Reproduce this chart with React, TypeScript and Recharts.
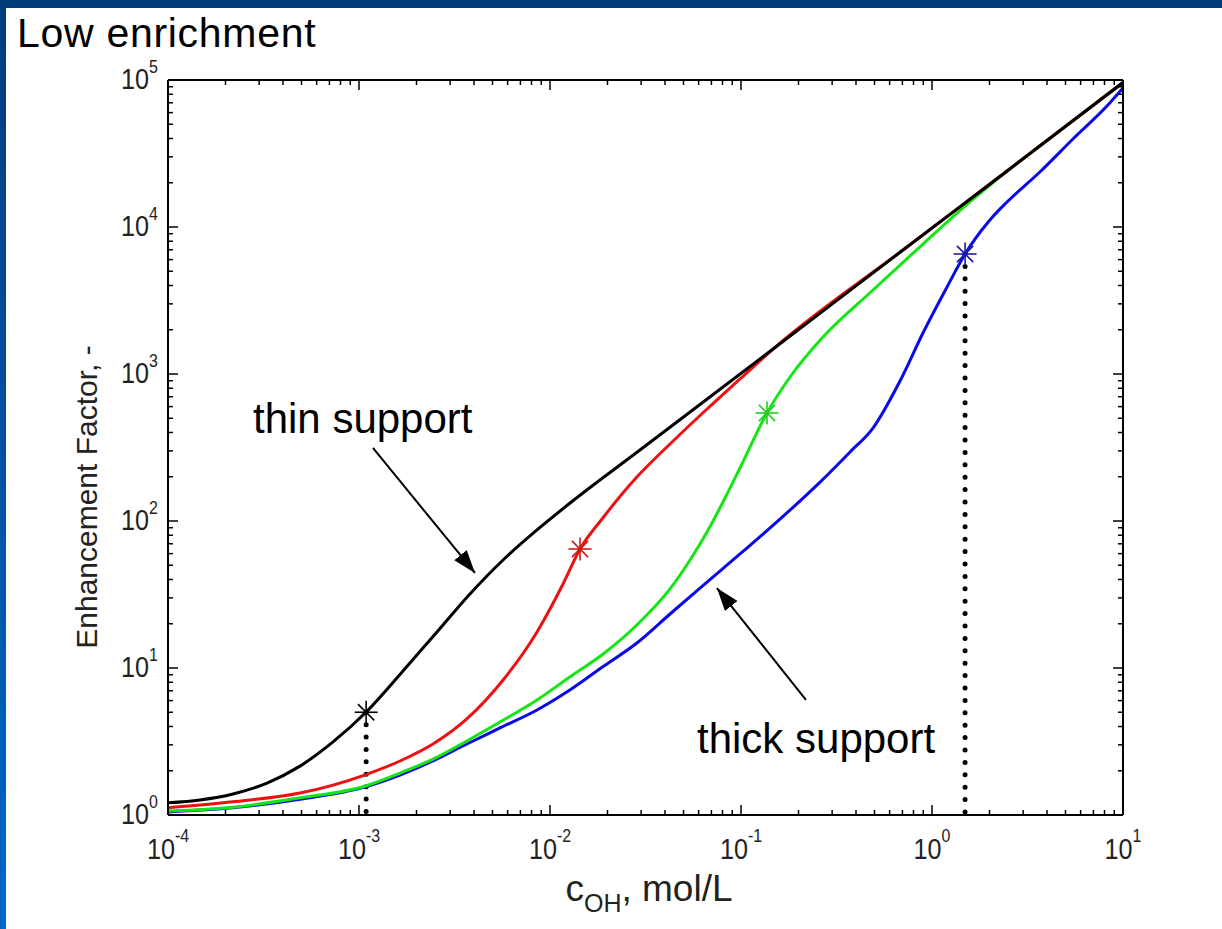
import React from 'react';
import { ComposedChart, Line, Scatter, XAxis, YAxis, ReferenceLine } from 'recharts';

const FONT = "'Liberation Sans', Arial, Helvetica, sans-serif";

// ---- axis ticks ----
const xMajorTicks = [1e-4, 1e-3, 1e-2, 1e-1, 1, 10];
const xMinorTicks = [
  2e-4, 3e-4, 4e-4, 5e-4, 6e-4, 7e-4, 8e-4, 9e-4,
  2e-3, 3e-3, 4e-3, 5e-3, 6e-3, 7e-3, 8e-3, 9e-3,
  0.02, 0.03, 0.04, 0.05, 0.06, 0.07, 0.08, 0.09,
  0.2, 0.3, 0.4, 0.5, 0.6, 0.7, 0.8, 0.9,
  2, 3, 4, 5, 6, 7, 8, 9,
];
const yMajorTicks = [1, 10, 100, 1000, 10000, 100000];
const yMinorTicks = [
  2, 3, 4, 5, 6, 7, 8, 9,
  20, 30, 40, 50, 60, 70, 80, 90,
  200, 300, 400, 500, 600, 700, 800, 900,
  2000, 3000, 4000, 5000, 6000, 7000, 8000, 9000,
  20000, 30000, 40000, 50000, 60000, 70000, 80000, 90000,
];
const xTicks = [...xMajorTicks, ...xMinorTicks];
const yTicks = [...yMajorTicks, ...yMinorTicks];

// ---- series (c_OH in mol/L, enhancement factor) ----
const blackX = [1e-4, 1.47e-4, 2.19e-4, 3.3e-4, 4.91e-4, 7.31e-4, 1.09e-3, 1.7e-3, 2.56e-3, 3.81e-3, 5.68e-3, 8.55e-3, 0.01274, 0.02958, 0.1472, 0.7396, 2.472, 10];
const blackY = [1.21, 1.265, 1.39, 1.65, 2.15, 3.14, 5.02, 9.55, 17.6, 31.9, 54.3, 86.9, 132.5, 304, 1479, 7310, 24040, 96150];

const redX = [1e-4, 2.19e-4, 4.91e-4, 1.07e-3, 1.64e-3, 2.44e-3, 3.67e-3, 5.68e-3, 8.55e-3, 0.0117, 0.01436, 0.0189, 0.0285, 0.0425, 0.0664, 0.0988, 0.1472, 0.7396, 2.472, 10];
const redY = [1.12, 1.23, 1.41, 1.87, 2.33, 3.04, 4.5, 8.28, 17.6, 37.3, 64.5, 104.8, 199, 334, 578, 925, 1479, 7310, 24040, 96150];

const greenX = [1e-4, 2.19e-4, 4.91e-4, 1.07e-3, 1.64e-3, 2.44e-3, 3.67e-3, 5.47e-3, 8.55e-3, 0.0127, 0.0189, 0.0285, 0.0425, 0.0541, 0.0664, 0.0805, 0.0988, 0.1368, 0.1806, 0.2687, 0.491, 0.897, 1.352, 2.014, 5.47, 10];
const greenY = [1.065, 1.13, 1.31, 1.57, 1.93, 2.4, 3.19, 4.29, 6.06, 8.69, 12.4, 19.6, 34.5, 54.3, 84.2, 134.6, 229.5, 543, 954, 1785, 3727, 7656, 12450, 19300, 53000, 96150];

const blueX = [1e-4, 2.19e-4, 4.91e-4, 1.07e-3, 1.64e-3, 2.44e-3, 3.67e-3, 5.47e-3, 8.55e-3, 0.0127, 0.0189, 0.0285, 0.0425, 0.061, 0.0988, 0.16, 0.2594, 0.3724, 0.491, 0.68, 0.897, 1.199, 1.49, 2.01, 2.47, 3.67, 5.47, 8.24, 10];
const blueY = [1.05, 1.12, 1.28, 1.55, 1.87, 2.33, 3.04, 3.91, 5.18, 7.08, 10.2, 14.8, 23.3, 35.0, 59.7, 103, 184, 295, 429, 896, 1901, 3908, 6550, 11160, 14790, 23660, 39700, 66500, 88300];

// transition points (asterisks)
const starBlack = { x: 1.09e-3, y: 5.0 };
const starRed = { x: 0.01436, y: 64.5 };
const starGreen = { x: 0.1368, y: 543 };
const starBlue = { x: 1.49, y: 6550 };

// annotation arrows (data coordinates)
const thinArrow = [{ x: 1.183e-3, y: 314 }, { x: 4.05e-3, y: 44.3 }];
const thickArrow = [{ x: 0.2188, y: 6.06 }, { x: 0.0748, y: 35.0 }];

const zip = (xs: number[], ys: number[]) => xs.map((x, i) => ({ x, y: ys[i] }));
const blackData = zip(blackX, blackY);
const redData = zip(redX, redY);
const greenData = zip(greenX, greenY);
const blueData = zip(blueX, blueY);

const isMajor = (v: number) => Math.abs(Math.log10(v) - Math.round(Math.log10(v))) < 1e-6;
const expOf = (v: number) => Math.round(Math.log10(v));

function BottomTick(props: any) {
  const { x, y, payload } = props;
  const v = payload.value;
  const maj = isMajor(v);
  return (
    <g>
      <line x1={x} y1={y} x2={x} y2={y - (maj ? 10 : 5)} stroke="#000" strokeWidth={1.5} />
      {maj && (
        <text transform={`translate(${x},${y + 44}) scale(0.84,1)`} textAnchor="middle" fontFamily={FONT} fontSize={30} fill="#222">
          10<tspan dy={-17} fontSize={19}>{expOf(v)}</tspan>
        </text>
      )}
    </g>
  );
}
function TopTick(props: any) {
  const { x, y, payload } = props;
  const maj = isMajor(payload.value);
  return <line x1={x} y1={y} x2={x} y2={y + (maj ? 10 : 5)} stroke="#000" strokeWidth={1.5} />;
}
function LeftTick(props: any) {
  const { x, y, payload } = props;
  const v = payload.value;
  const maj = isMajor(v);
  return (
    <g>
      <line x1={x} y1={y} x2={x + (maj ? 10 : 5)} y2={y} stroke="#000" strokeWidth={1.5} />
      {maj && (
        <text transform={`translate(${x - 10},${y + 9}) scale(0.84,1)`} textAnchor="end" fontFamily={FONT} fontSize={30} fill="#222">
          10<tspan dy={-16} fontSize={19}>{expOf(v)}</tspan>
        </text>
      )}
    </g>
  );
}
function RightTick(props: any) {
  const { x, y, payload } = props;
  const maj = isMajor(payload.value);
  return <line x1={x} y1={y} x2={x - (maj ? 10 : 5)} y2={y} stroke="#000" strokeWidth={1.5} />;
}

const makeStar = (color: string) => (props: any) => {
  const { cx, cy } = props;
  const r = 11.5;
  const d = r * 0.7071;
  return (
    <g stroke={color} strokeWidth={1.6}>
      <line x1={cx - r} y1={cy} x2={cx + r} y2={cy} />
      <line x1={cx} y1={cy - r} x2={cx} y2={cy + r} />
      <line x1={cx - d} y1={cy - d} x2={cx + d} y2={cy + d} />
      <line x1={cx - d} y1={cy + d} x2={cx + d} y2={cy - d} />
    </g>
  );
};

const arrowShape = (p: any) => (
  <line x1={p.x1} y1={p.y1} x2={p.x2} y2={p.y2} stroke="#000" strokeWidth={2} markerEnd="url(#arrowHead)" />
);

const axisLine = { stroke: '#000', strokeWidth: 2 };

export default function App() {
  return (
    <div style={{ position: 'absolute', left: 0, top: 0, width: 1222, height: 929, background: '#fff', overflow: 'hidden' }}>
      <svg width={0} height={0} style={{ position: 'absolute' }}>
        <defs>
          <marker id="arrowHead" markerUnits="userSpaceOnUse" markerWidth={26} markerHeight={18} refX={23} refY={8} orient="auto">
            <path d="M0,0 L23,8 L0,16 Z" fill="#000" />
          </marker>
        </defs>
      </svg>
      <div style={{ position: 'absolute', left: 0, top: 0, width: 1222, height: 8, background: '#003b7a' }} />
      <div style={{ position: 'absolute', left: 0, top: 0, width: 6, height: 929, background: 'linear-gradient(#013c7c, #0066cc)' }} />
      <div style={{ position: 'absolute', left: 0, top: 0 }}>
        <ComposedChart width={1222} height={929} margin={{ top: 79, right: 98, bottom: 113, left: 167 }}>
          <XAxis
            dataKey="x" type="number" scale="log" domain={[1e-4, 10]} allowDataOverflow
            ticks={xTicks} interval={0} tickSize={0} tickMargin={0} height={1} tickLine={false}
            axisLine={axisLine} tick={<BottomTick />}
          />
          <XAxis
            xAxisId="top" orientation="top" dataKey="x" type="number" scale="log" domain={[1e-4, 10]} allowDataOverflow
            ticks={xTicks} interval={0} tickSize={0} tickMargin={0} height={1} tickLine={false}
            axisLine={axisLine} tick={<TopTick />}
          />
          <YAxis
            type="number" scale="log" domain={[1, 100000]} allowDataOverflow
            ticks={yTicks} interval={0} tickSize={0} tickMargin={0} width={1} tickLine={false}
            axisLine={axisLine} tick={<LeftTick />}
          />
          <YAxis
            yAxisId="right" orientation="right" type="number" scale="log" domain={[1, 100000]} allowDataOverflow
            ticks={yTicks} interval={0} tickSize={0} tickMargin={0} width={1} tickLine={false}
            axisLine={axisLine} tick={<RightTick />}
          />
          <ReferenceLine segment={[starBlack, { x: starBlack.x, y: 1 }]} stroke="#000" strokeWidth={5} strokeDasharray="0 12.4" strokeLinecap="round" />
          <ReferenceLine segment={[starBlue, { x: starBlue.x, y: 1 }]} stroke="#000" strokeWidth={5} strokeDasharray="0 12.4" strokeLinecap="round" />
          <Line data={blueData} dataKey="y" type="monotone" stroke="#0a0ae6" strokeWidth={3} dot={false} isAnimationActive={false} />
          <Line data={greenData} dataKey="y" type="monotone" stroke="#14e614" strokeWidth={3} dot={false} isAnimationActive={false} />
          <Line data={redData} dataKey="y" type="monotone" stroke="#ee1111" strokeWidth={3} dot={false} isAnimationActive={false} />
          <Line data={blackData} dataKey="y" type="monotone" stroke="#000" strokeWidth={3} dot={false} isAnimationActive={false} />
          <Scatter data={[starBlack]} dataKey="y" shape={makeStar('#000')} isAnimationActive={false} />
          <Scatter data={[starRed]} dataKey="y" shape={makeStar('#cc1a1a')} isAnimationActive={false} />
          <Scatter data={[starGreen]} dataKey="y" shape={makeStar('#22cc22')} isAnimationActive={false} />
          <Scatter data={[starBlue]} dataKey="y" shape={makeStar('#1a1aaa')} isAnimationActive={false} />
          <ReferenceLine segment={thinArrow} shape={arrowShape} />
          <ReferenceLine segment={thickArrow} shape={arrowShape} />
        </ComposedChart>
      </div>
      <svg width={1222} height={929} style={{ position: 'absolute', left: 0, top: 0, pointerEvents: 'none' }}>
        <text x={17} y={47} fontFamily={FONT} fontSize={41} letterSpacing={0.7} fill="#000">Low enrichment</text>
        <text x={253} y={433} fontFamily={FONT} fontSize={42} fill="#000">thin support</text>
        <text x={697} y={753} fontFamily={FONT} fontSize={42} fill="#000">thick support</text>
        <text transform="translate(97,497) rotate(-90)" textAnchor="middle" fontFamily={FONT} fontSize={30} fill="#222">Enhancement Factor, -</text>
        <text x={649} y={901} textAnchor="middle" fontFamily={FONT} fontSize={37} fill="#222">
          c<tspan dy={11} fontSize={25}>OH</tspan><tspan dy={-11}>, mol/L</tspan>
        </text>
      </svg>
    </div>
  );
}
